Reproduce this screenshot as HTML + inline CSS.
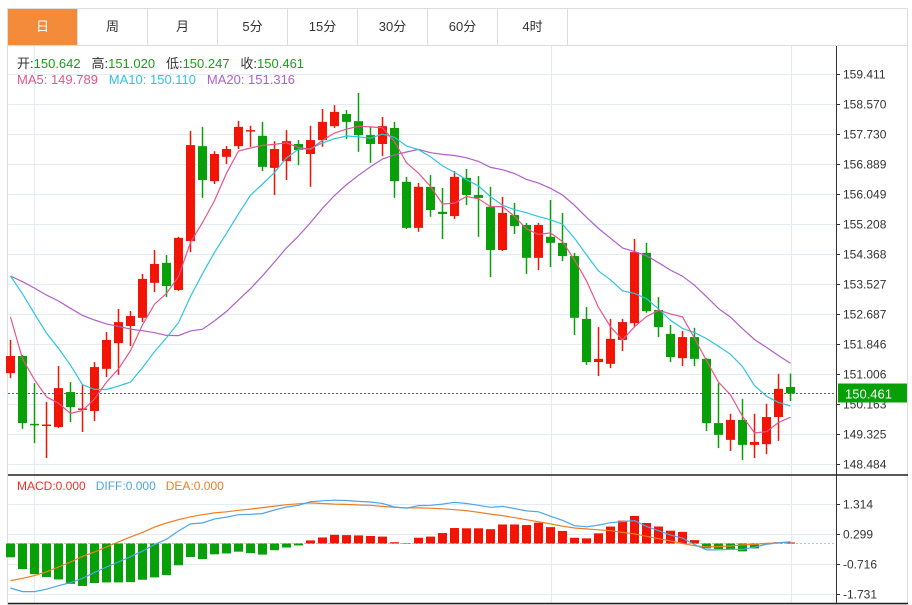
<!DOCTYPE html>
<html><head><meta charset="utf-8">
<style>
body{margin:0;background:#fff;width:912px;height:605px;overflow:hidden;font-family:"Liberation Sans","Noto Sans CJK SC",sans-serif;}
#wrap{position:absolute;left:0;top:0;width:912px;height:605px;}
.tab{position:absolute;top:9px;height:36px;width:69px;border-right:1px solid #ddd;text-align:center;line-height:36px;font-size:13px;color:#333;background:#fff;}
.tab.on{background:#f38b3b;color:#fff;}
.info{position:absolute;left:17px;font-size:13px;white-space:nowrap;}
</style></head><body>
<div id="wrap">
<svg id="svg" width="912" height="605" style="position:absolute;left:0;top:0"></svg>
<div class="tab on" style="left:8px">日</div>
<div class="tab" style="left:78px">周</div>
<div class="tab" style="left:148px">月</div>
<div class="tab" style="left:218px">5分</div>
<div class="tab" style="left:288px">15分</div>
<div class="tab" style="left:358px">30分</div>
<div class="tab" style="left:428px">60分</div>
<div class="tab" style="left:498px">4时</div>
<div class="info" style="top:53px"><span style="color:#333">开:</span><span style="color:#1a9e1a">150.642</span>&nbsp;&nbsp; <span style="color:#333">高:</span><span style="color:#1a9e1a">151.020</span>&nbsp;&nbsp; <span style="color:#333">低:</span><span style="color:#1a9e1a">150.247</span>&nbsp;&nbsp; <span style="color:#333">收:</span><span style="color:#1a9e1a">150.461</span></div>
<div class="info" style="top:72px"><span style="color:#e8558a">MA5: 149.789</span>&nbsp;&nbsp; <span style="color:#2ec4e0">MA10: 150.110</span>&nbsp;&nbsp; <span style="color:#b05fc8">MA20: 151.316</span></div>
<div class="info" style="top:479px;font-size:12px;left:17px"><span style="color:#f0302a">MACD:0.000</span>&nbsp;&nbsp; <span style="color:#4da6e8">DIFF:0.000</span>&nbsp;&nbsp; <span style="color:#f07d22">DEA:0.000</span></div>
</div>
<script>
const opens=[151.03,151.51,149.61,149.56,149.52,150.50,150.01,149.97,151.15,151.87,152.35,152.58,153.56,154.12,153.36,154.73,157.39,156.41,157.09,157.39,157.83,157.68,156.78,156.97,157.45,157.17,157.56,157.95,158.29,158.09,157.70,157.45,157.90,156.39,155.10,156.25,155.55,155.43,156.50,156.02,155.69,154.48,155.46,155.18,154.26,154.85,154.68,154.31,152.55,151.34,151.29,151.96,152.43,154.40,152.80,152.13,151.45,152.04,151.43,149.63,149.16,149.72,149.02,149.04,149.80,150.642];
const closes=[151.51,149.63,149.59,149.59,150.61,150.08,150.04,151.20,151.96,152.46,152.63,153.67,154.09,153.47,154.82,157.42,156.44,157.17,157.31,157.93,157.84,156.81,157.31,157.53,157.28,157.56,158.07,158.35,158.07,157.70,157.45,157.95,156.41,155.10,156.25,155.60,155.49,156.53,156.02,155.94,154.48,155.52,155.15,154.26,155.18,154.68,154.31,152.58,151.34,151.43,151.99,152.46,154.42,152.77,152.32,151.48,152.04,151.43,149.63,149.30,149.72,149.02,149.10,149.80,150.59,150.461];
const highs=[151.96,151.54,150.75,150.22,151.23,150.78,150.70,151.34,152.18,152.83,152.77,153.81,154.48,154.34,154.85,157.82,157.93,157.25,157.39,158.10,157.96,158.07,157.53,157.84,157.56,157.96,158.43,158.54,158.40,158.88,157.93,158.21,158.07,156.53,156.36,156.58,156.22,156.69,156.75,156.55,156.25,155.97,155.80,155.24,155.24,155.88,155.52,154.40,152.88,152.32,152.55,152.55,154.79,154.68,153.16,152.38,152.21,152.30,151.45,150.75,149.89,150.31,149.89,150.17,151.01,151.020];
const lows=[150.89,149.47,149.07,148.65,149.49,149.66,149.38,149.69,150.92,150.98,151.79,152.46,153.30,153.16,153.33,154.42,155.94,156.33,156.89,157.31,157.37,156.69,156.02,156.44,156.86,156.25,157.37,157.90,157.59,157.23,156.92,157.11,155.94,155.07,154.99,155.41,154.79,155.35,155.74,154.85,153.72,154.45,154.93,153.81,153.92,154.00,154.17,152.10,151.26,150.95,151.17,151.65,152.32,152.72,152.04,151.34,151.23,151.23,149.41,148.93,148.85,148.60,148.65,148.76,149.13,150.247];
const priorCloses=[152.8,153.2,153.5,153.9,154.2,154.0,153.8,154.1,153.9,154.1,154.6,155.2,155.0,154.9,154.8,155.5,152.5,152.0,151.5];
const priceTicks=[159.411,158.570,157.730,156.889,156.049,155.208,154.368,153.527,152.687,151.846,151.006,150.163,149.325,148.484];
const macdHist=[-0.50,-0.90,-1.07,-1.17,-1.25,-1.40,-1.47,-1.37,-1.35,-1.35,-1.34,-1.26,-1.18,-1.10,-0.77,-0.49,-0.56,-0.40,-0.37,-0.31,-0.36,-0.41,-0.26,-0.17,-0.10,0.07,0.17,0.26,0.25,0.24,0.22,0.20,0.01,-0.02,0.16,0.20,0.32,0.49,0.48,0.48,0.45,0.61,0.61,0.59,0.67,0.52,0.39,0.16,0.14,0.31,0.54,0.74,0.90,0.66,0.54,0.40,0.36,0.08,-0.20,-0.22,-0.22,-0.30,-0.20,-0.06,0.01,0];
const deaVals=[-1.29,-1.21,-1.12,-0.99,-0.83,-0.66,-0.47,-0.32,-0.15,0.02,0.19,0.34,0.52,0.66,0.77,0.87,0.94,1.00,1.04,1.09,1.13,1.18,1.23,1.28,1.31,1.34,1.32,1.30,1.29,1.27,1.26,1.22,1.19,1.17,1.17,1.16,1.14,1.11,1.08,1.02,0.96,0.91,0.84,0.77,0.70,0.63,0.55,0.49,0.46,0.43,0.40,0.34,0.29,0.21,0.13,0.05,-0.03,-0.11,-0.15,-0.14,-0.12,-0.08,-0.06,-0.03,-0.01,0.02];
const diffVals=[-1.54,-1.66,-1.66,-1.58,-1.46,-1.36,-1.21,-1.01,-0.83,-0.66,-0.48,-0.29,-0.07,0.11,0.39,0.63,0.66,0.80,0.86,0.94,0.95,0.98,1.10,1.20,1.26,1.38,1.41,1.43,1.42,1.39,1.37,1.32,1.20,1.16,1.25,1.26,1.30,1.36,1.32,1.26,1.19,1.22,1.15,1.07,1.04,0.89,0.75,0.57,0.53,0.59,0.67,0.71,0.74,0.54,0.40,0.25,0.15,-0.07,-0.25,-0.25,-0.23,-0.23,-0.16,-0.06,-0.01,0.02];
const macdTicks=[1.314,0.299,-0.716,-1.731];
const lastPrice=150.461;

const NS='http://www.w3.org/2000/svg';
const svg=document.getElementById('svg');
function mk(tag,attrs,parent){const e=document.createElementNS(NS,tag);for(const k in attrs)e.setAttribute(k,attrs[k]);(parent||svg).appendChild(e);return e;}
const xOf=i=>10.5+12*i;
const yP=p=>464-(p-148.484)*35.69;
const yM=v=>542.5-v*29.56;
const AX=836;

// frame
let e;
e=mk('rect',{x:7.5,y:8.5,width:900,height:596,fill:'none',stroke:'#ddd'});


e=mk('line',{x1:8,y1:45.5,x2:908,y2:45.5,stroke:'#ddd'});


// grids
priceTicks.forEach(t=>{const y=Math.round(yP(t))+0.5;
  e=mk('line',{x1:8,y1:y,x2:AX,y2:y,stroke:'#e3ecf3'});
  
  
  e=mk('line',{x1:AX,y1:y,x2:AX+4,y2:y,stroke:'#333'});
  
  
  e=mk('text',{x:AX+7,y:y+4,'font-size':12,fill:'#333','font-family':'Liberation Sans, sans-serif'});
  e.textContent=t.toFixed(3);
  
  
});
macdTicks.forEach(t=>{const y=Math.round(yM(t))+0.5;
  e=mk('line',{x1:8,y1:y,x2:AX,y2:y,stroke:'#e3ecf3'});
  
  
  e=mk('line',{x1:AX,y1:y,x2:AX+4,y2:y,stroke:'#333'});
  
  
  e=mk('text',{x:AX+7,y:y+4,'font-size':12,fill:'#333','font-family':'Liberation Sans, sans-serif'});
  e.textContent=t.toFixed(3);
  
  
});
[34.5,551.5,791.5].forEach(x=>{
  e=mk('line',{x1:x,y1:46,x2:x,y2:604,stroke:'#e3ecf3'});
  
  
});
e=mk('line',{x1:8,y1:74.5,x2:AX,y2:74.5,stroke:'#e3ecf3'});


e=mk('line',{x1:AX+0.5,y1:46,x2:AX+0.5,y2:604,stroke:'#333'});


e=mk('line',{x1:8,y1:475,x2:908,y2:475,stroke:'#222','stroke-width':1.5});


e=mk('line',{x1:8,y1:603.5,x2:908,y2:603.5,stroke:'#222','stroke-width':1.5});



// candles
const RED='#f21405',GREEN='#08a008';
for(let i=0;i<opens.length;i++){
  const o=opens[i],c=closes[i],up=c>=o,col=up?RED:GREEN,x=xOf(i);
  const g=mk('g',{});
  
  
  mk('line',{x1:x,y1:yP(highs[i]),x2:x,y2:yP(lows[i]),stroke:col,'stroke-width':1.5},g);
  const top=yP(Math.max(o,c)),bot=yP(Math.min(o,c));
  mk('rect',{x:x-4.5,y:top,width:9,height:Math.max(1.5,bot-top),fill:col},g);
}
// MAs
const all=priorCloses.concat(closes),P=priorCloses.length;
function ma(n,color,name){let d='';for(let i=0;i<closes.length;i++){let s=0;for(let k=0;k<n;k++)s+=all[P+i-k];d+=(i?'L':'M')+xOf(i).toFixed(1)+' '+yP(s/n).toFixed(1);}
  const p=mk('path',{d:d,fill:'none',stroke:color,'stroke-width':1.2});
  
  }
ma(20,'#b05fc8','ma20-line');ma(10,'#2ec4e0','ma10-line');ma(5,'#e8558a','ma5-line');

// last price
const ly=Math.round(yP(lastPrice))+0.5;
e=mk('line',{x1:8,y1:ly,x2:AX,y2:ly,stroke:'#08a008','stroke-dasharray':'2,2'});


e=mk('rect',{x:AX+2,y:ly-10,width:69,height:19,fill:'#08a008'});


e=mk('text',{x:AX+9,y:ly+5,'font-size':13,fill:'#fff','font-family':'Liberation Sans, sans-serif'});
e.textContent=lastPrice.toFixed(3);



// MACD
const z=Math.round(yM(0))+0.5;
e=mk('line',{x1:8,y1:z,x2:AX,y2:z,stroke:'#8fd3e8','stroke-dasharray':'2,2'});


for(let i=0;i<macdHist.length;i++){const v=macdHist[i],y=yM(v);
  e=mk('rect',{x:xOf(i)-4.5,y:Math.min(y,z),width:9,height:Math.max(Math.abs(y-z),0.5),fill:v>=0?RED:GREEN});
  
  
}
function line(arr,color,name){let d='';arr.forEach((v,i)=>d+=(i?'L':'M')+xOf(i).toFixed(1)+' '+yM(v).toFixed(1));
  const p=mk('path',{d:d,fill:'none',stroke:color,'stroke-width':1.2});
  
  }
line(deaVals,'#f07d22','dea-line');line(diffVals,'#4da6e8','diff-line');
</script>
</body></html>
